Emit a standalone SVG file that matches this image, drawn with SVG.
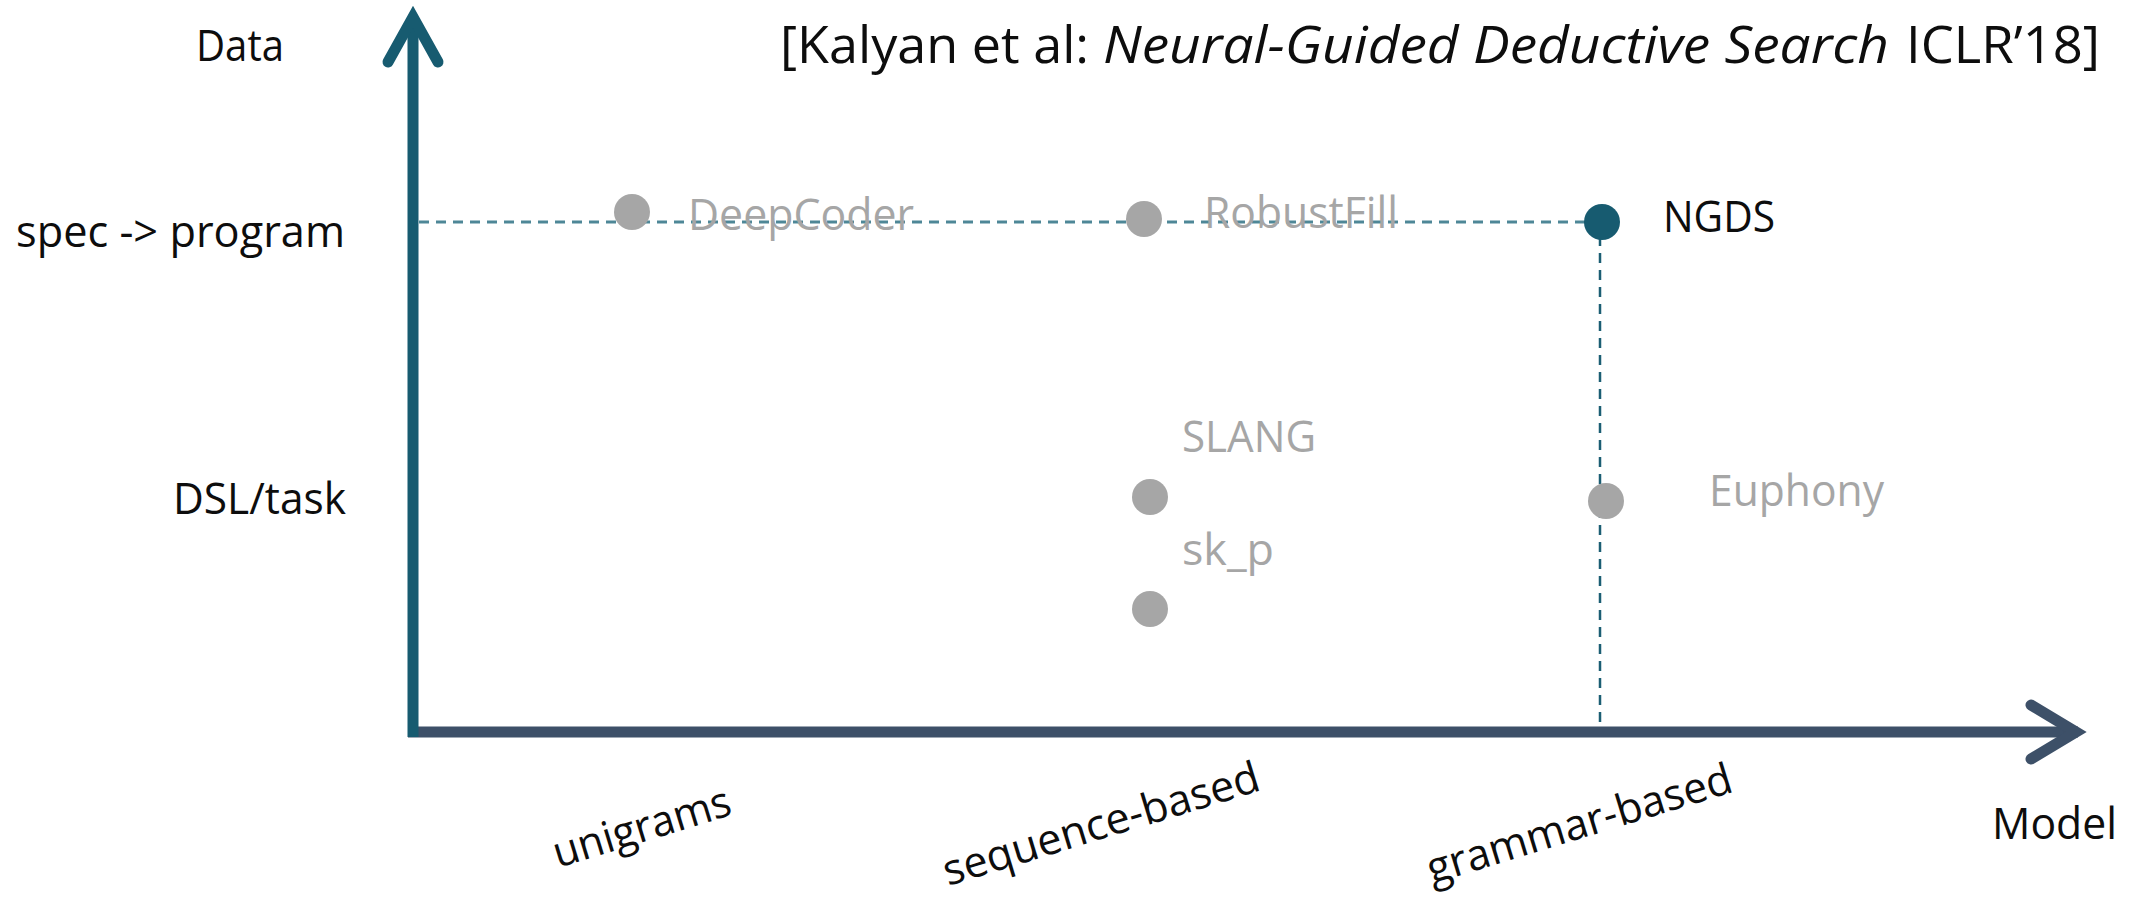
<svg xmlns="http://www.w3.org/2000/svg" width="2134" height="899" viewBox="0 0 2134 899">
  <style>
    text { font-family: "Open Sans", "Liberation Sans", sans-serif; font-size: 43px; }
    .dark { fill: #0d0d0d; }
    .gray { fill: #a6a6a6; }
    .title { font-size: 52px; fill: #0d0d0d; }
    .ital { font-style: italic; }
    .dot { fill: #a6a6a6; }
    .dot-hi { fill: #175b70; }
    .axis-y { stroke: #175b70; stroke-width: 11; fill: none; }
    .axis-x { stroke: #3d5068; stroke-width: 11; fill: none; }
    .head { stroke-linecap: round; stroke-linejoin: miter; }
    .guide-h { stroke: #4e8797; stroke-width: 3; stroke-dasharray: 10 7; fill: none; }
    .guide-v { stroke: #1b5e73; stroke-width: 2.5; stroke-dasharray: 10 7; fill: none; }
  </style>

  <rect width="2134" height="899" fill="#ffffff"/>

  <!-- title / citation -->
  <g id="title">
    <text class="title" x="780" y="63" textLength="309" lengthAdjust="spacingAndGlyphs">[Kalyan et al:</text>
    <text class="title ital" x="1103" y="63" textLength="786" lengthAdjust="spacingAndGlyphs">Neural-Guided Deductive Search</text>
    <text class="title" x="1906" y="63" textLength="194" lengthAdjust="spacingAndGlyphs">ICLR’18]</text>
  </g>

  <!-- axes -->
  <g id="axes">
    <line class="axis-x" x1="408" y1="732" x2="2078" y2="732"/>
    <polyline class="axis-x head" points="2031,705 2076,732 2031,759"/>
    <line class="axis-y" x1="413" y1="737" x2="413" y2="18"/>
    <polyline class="axis-y head" points="388,62 413,17 438,62"/>
  </g>

  <!-- axis titles and tick labels -->
  <g id="axis-labels">
    <text class="dark" x="196" y="61" font-size="42" textLength="88" lengthAdjust="spacingAndGlyphs">Data</text>
    <text class="dark" x="16" y="247" textLength="329" lengthAdjust="spacingAndGlyphs">spec -&gt; program</text>
    <text class="dark" x="173" y="514" textLength="173" lengthAdjust="spacingAndGlyphs">DSL/task</text>
    <text class="dark" x="1992" y="839" textLength="125" lengthAdjust="spacingAndGlyphs">Model</text>
    <text class="dark" transform="translate(558 868) rotate(-17)" textLength="184" lengthAdjust="spacingAndGlyphs">unigrams</text>
    <text class="dark" transform="translate(948 886) rotate(-17)" textLength="329" lengthAdjust="spacingAndGlyphs">sequence-based</text>
    <text class="dark" transform="translate(1432 884) rotate(-17)" textLength="317" lengthAdjust="spacingAndGlyphs">grammar-based</text>
  </g>

  <!-- dashed guide lines -->
  <g id="connectors">
    <line class="guide-h" x1="419" y1="222" x2="1590" y2="222"/>
    <line class="guide-v" x1="1600" y1="236" x2="1600" y2="727"/>
  </g>

  <!-- systems -->
  <g id="deepcoder">
    <circle class="dot" cx="632" cy="212" r="18"/>
    <text class="gray" x="688" y="230" textLength="226" lengthAdjust="spacingAndGlyphs">DeepCoder</text>
  </g>
  <g id="robustfill">
    <circle class="dot" cx="1144" cy="219" r="18"/>
    <text class="gray" x="1204" y="228" textLength="194" lengthAdjust="spacingAndGlyphs">RobustFill</text>
  </g>
  <g id="ngds">
    <circle class="dot-hi" cx="1602" cy="222" r="18"/>
    <text class="dark" x="1663" y="232" textLength="112" lengthAdjust="spacingAndGlyphs">NGDS</text>
  </g>
  <g id="slang">
    <circle class="dot" cx="1150" cy="497" r="18"/>
    <text class="gray" x="1182" y="452" textLength="134" lengthAdjust="spacingAndGlyphs">SLANG</text>
  </g>
  <g id="sk_p">
    <circle class="dot" cx="1150" cy="609" r="18"/>
    <text class="gray" x="1182" y="565" textLength="92" lengthAdjust="spacingAndGlyphs">sk_p</text>
  </g>
  <g id="euphony">
    <circle class="dot" cx="1606" cy="501" r="18"/>
    <text class="gray" x="1709" y="506" textLength="175" lengthAdjust="spacingAndGlyphs">Euphony</text>
  </g>
</svg>
